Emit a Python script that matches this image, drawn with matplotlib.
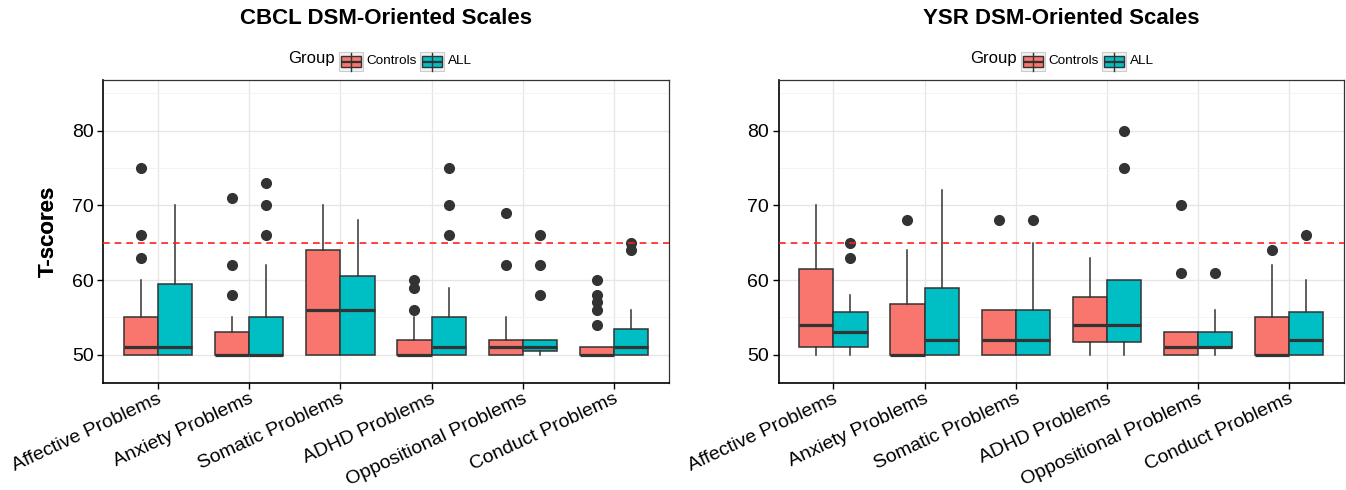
import matplotlib
matplotlib.use("Agg")
import matplotlib.pyplot as plt
from matplotlib.patches import Rectangle
from matplotlib.lines import Line2D
from matplotlib.ticker import MultipleLocator
from matplotlib.transforms import IdentityTransform, ScaledTranslation

plt.rcParams['font.family'] = ['Liberation Sans', 'DejaVu Sans']

categories = ["Affective Problems", "Anxiety Problems", "Somatic Problems",
              "ADHD Problems", "Oppositional Problems", "Conduct Problems"]
groups = ["Controls", "ALL"]
colors = {"Controls": "#F8766D", "ALL": "#00BFC4"}

# CBCL panel
cbcl_ctrl_q1 = [50, 50, 50, 50, 50, 50]
cbcl_ctrl_med = [51, 50, 56, 50, 51, 50]
cbcl_ctrl_q3 = [55, 53, 64, 52, 52, 51]
cbcl_ctrl_lo = [50, 50, 50, 50, 50, 50]
cbcl_ctrl_hi = [60, 55, 70, 55, 55, 51]
cbcl_ctrl_out = [[75, 66, 63], [71, 62, 58], [], [60, 59, 56], [69, 62], [60, 58, 57, 56, 54]]

cbcl_all_q1 = [50, 50, 50, 50, 50.5, 50]
cbcl_all_med = [51, 50, 56, 51, 51, 51]
cbcl_all_q3 = [59.5, 55, 60.5, 55, 52, 53.5]
cbcl_all_lo = [50, 50, 50, 50, 50, 50]
cbcl_all_hi = [70, 62, 68, 59, 52, 56]
cbcl_all_out = [[], [73, 70, 66], [], [75, 70, 66], [66, 62, 58], [65, 64]]

# YSR panel
ysr_ctrl_q1 = [51, 50, 50, 51.75, 50, 50]
ysr_ctrl_med = [54, 50, 52, 54, 51, 50]
ysr_ctrl_q3 = [61.5, 56.75, 56, 57.75, 53, 55]
ysr_ctrl_lo = [50, 50, 50, 50, 50, 50]
ysr_ctrl_hi = [70, 64, 56, 63, 53, 62]
ysr_ctrl_out = [[], [68], [68], [], [70, 61], [64]]

ysr_all_q1 = [51, 50, 50, 51.75, 51, 50]
ysr_all_med = [53, 52, 52, 54, 51, 52]
ysr_all_q3 = [55.75, 59, 56, 60, 53, 55.75]
ysr_all_lo = [50, 50, 50, 50, 50, 50]
ysr_all_hi = [58, 72, 65, 60, 56, 60]
ysr_all_out = [[65, 63], [], [68], [80, 75], [61], [66]]

cutoff = 65
yticks = [50, 60, 70, 80]

def stats(q1, med, q3, lo, hi, out):
    return [dict(q1=a, med=b, q3=c, whislo=d, whishi=e, fliers=f)
            for a, b, c, d, e, f in zip(q1, med, q3, lo, hi, out)]

panels = [
    ("CBCL DSM-Oriented Scales",
     stats(cbcl_ctrl_q1, cbcl_ctrl_med, cbcl_ctrl_q3, cbcl_ctrl_lo, cbcl_ctrl_hi, cbcl_ctrl_out),
     stats(cbcl_all_q1, cbcl_all_med, cbcl_all_q3, cbcl_all_lo, cbcl_all_hi, cbcl_all_out)),
    ("YSR DSM-Oriented Scales",
     stats(ysr_ctrl_q1, ysr_ctrl_med, ysr_ctrl_q3, ysr_ctrl_lo, ysr_ctrl_hi, ysr_ctrl_out),
     stats(ysr_all_q1, ysr_all_med, ysr_all_q3, ysr_all_lo, ysr_all_hi, ysr_all_out)),
]

W, H = 1346, 490
DPI = 100
fig = plt.figure(figsize=(W / DPI, H / DPI), dpi=DPI)

ax_px = [(103.3, 668.7), (778.6, 1344.0)]
top_px, bot_px = 80.0, 382.7
legend_off = [0, 682]

edge = "#333333"
bw = 0.375
ident = IdentityTransform()

def add_rect(x0, y0, x1, y1, **kw):
    # pixel coords from top-left
    fig.add_artist(Rectangle((x0, H - y1), x1 - x0, y1 - y0, transform=ident, **kw))

def add_line(xs, ys, **kw):
    fig.add_artist(Line2D(xs, [H - y for y in ys], transform=ident, **kw))

def draw_key(x, color):
    add_rect(x, 52, x + 24, 71, facecolor="#F2F2F2", edgecolor="#CCCCCC", lw=0.8)
    add_line([x + 12, x + 12], [52.5, 71.0], color=edge, lw=1.0)
    add_rect(x + 2, 56, x + 22, 67, facecolor=color, edgecolor=edge, lw=1.0)
    add_line([x + 2, x + 22], [61.5, 61.5], color=edge, lw=1.6, solid_capstyle="butt")

for k, (title, st_c, st_a) in enumerate(panels):
    x0p, x1p = ax_px[k]
    ax = fig.add_axes([x0p / W, 1 - bot_px / H, (x1p - x0p) / W, (bot_px - top_px) / H])
    n = len(categories)
    pos = list(range(n))
    for st, off, g in [(st_c, -bw / 2, "Controls"), (st_a, bw / 2, "ALL")]:
        ax.bxp(st, positions=[p + off for p in pos], widths=bw, patch_artist=True,
               showcaps=False, manage_ticks=False,
               boxprops=dict(facecolor=colors[g], edgecolor=edge, linewidth=1.1),
               medianprops=dict(color=edge, linewidth=2.3, solid_capstyle="butt"),
               whiskerprops=dict(color=edge, linewidth=1.1),
               flierprops=dict(marker="o", markerfacecolor=edge, markeredgecolor=edge,
                               markersize=7.0, linestyle="none"),
               zorder=3)
    ax.axhline(cutoff, color="#FF2020", linestyle=(0, (4, 3)), linewidth=1.2, zorder=4)
    ax.set_xlim(-0.6, n - 0.4)
    ax.set_ylim(46.25, 86.8)
    ax.set_yticks(yticks)
    ax.yaxis.set_minor_locator(MultipleLocator(5))
    ax.set_xticks(pos)
    ax.set_xticklabels([])
    lab_tr = ax.get_xaxis_transform() + ScaledTranslation(4.7 / DPI, -19.5 / DPI, fig.dpi_scale_trans)
    for p, c in zip(pos, categories):
        ax.text(p, 0, c, transform=lab_tr, rotation=25, ha="right", va="baseline",
                rotation_mode="anchor", fontsize=14, clip_on=False)
    ax.tick_params(axis="x", which="major", length=4, width=1, color="black")
    ax.tick_params(axis="y", which="major", length=4, width=1, color="black", labelsize=14, pad=3)
    ax.tick_params(axis="y", which="minor", length=0)
    ax.grid(True, which="major", color="#E6E6E6", linewidth=0.9, zorder=0)
    ax.grid(True, which="minor", axis="y", color="#F3F3F3", linewidth=0.7, zorder=0)
    ax.set_axisbelow(True)
    for s in ["left", "bottom"]:
        ax.spines[s].set_color("black")
        ax.spines[s].set_linewidth(1.2)
    for s in ["top", "right"]:
        ax.spines[s].set_color("#333333")
        ax.spines[s].set_linewidth(0.9)
    ax.set_ylabel("T-scores", fontsize=16, fontweight="bold", va="center")
    ax.yaxis.set_label_coords((48 - x0p) / (x1p - x0p), 0.5)

    cx = (x0p + x1p) / 2
    fig.text(cx / W, 1 - 19 / H, title, ha="center", va="center", fontsize=16, fontweight="bold")

    o = legend_off[k]
    fig.text((288 + o) / W, 1 - 63.5 / H, "Group", ha="left", va="baseline", fontsize=12)
    draw_key(339 + o, colors["Controls"])
    fig.text((366 + o) / W, 1 - 64.5 / H, groups[0], ha="left", va="baseline", fontsize=9.7)
    draw_key(420 + o, colors["ALL"])
    fig.text((448 + o) / W, 1 - 64.5 / H, groups[1], ha="left", va="baseline", fontsize=9.7)

fig.savefig("out.png", dpi=DPI)
